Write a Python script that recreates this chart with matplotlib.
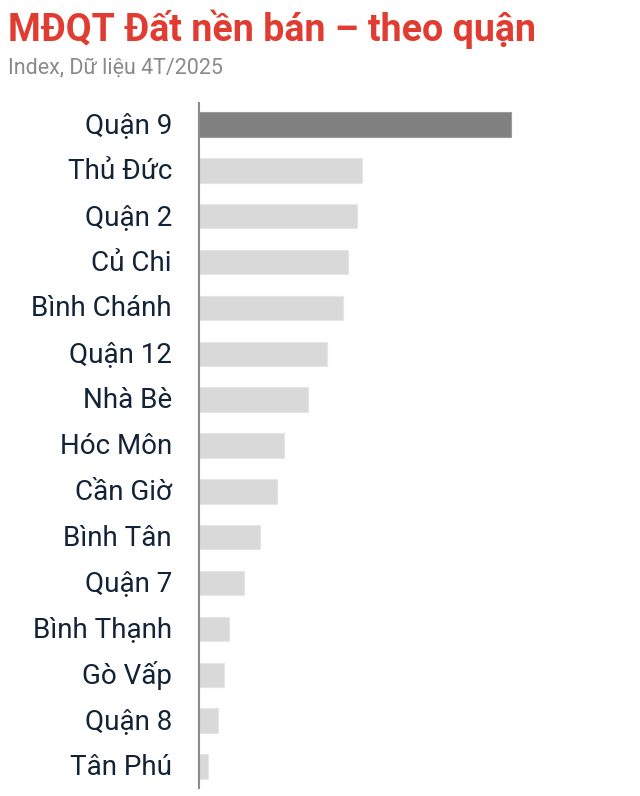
import matplotlib.pyplot as plt
from matplotlib.transforms import ScaledTranslation

districts = ["Quận 9", "Thủ Đức", "Quận 2", "Củ Chi", "Bình Chánh", "Quận 12", "Nhà Bè",
             "Hóc Môn", "Cần Giờ", "Bình Tân", "Quận 7", "Bình Thạnh", "Gò Vấp", "Quận 8", "Tân Phú"]
index_values = [312, 163, 158, 149, 144, 128, 109, 85, 78, 61, 45, 30, 25, 19, 9]
highlight = "Quận 9"

plt.rcParams['font.family'] = ['Roboto', 'DejaVu Sans']

W, H = 640, 796
fig = plt.figure(figsize=(W / 100, H / 100), dpi=100)
ax = fig.add_axes([199 / W, 1 - 788 / H, (620 - 199) / W, (788 - 103) / H])

colors = ["#808080" if d == highlight else "#d9d9d9" for d in districts]
edges = ["#9a9a9a" if d == highlight else "#e6e6e6" for d in districts]
ax.barh(range(len(districts)), index_values, height=0.53, color=colors,
        edgecolor=edges, linewidth=0.8)

ax.set_ylim(len(districts) - 0.53, -0.47)
ax.set_xlim(0, 421)
ax.set_yticks(range(len(districts)))
ax.set_yticklabels(districts, fontsize=20, color="#132337")
ax.tick_params(axis="y", length=0, pad=19.5)
# nudge labels up a couple of pixels
shift = ScaledTranslation(0, 2 / 100, fig.dpi_scale_trans)
for lbl in ax.get_yticklabels():
    lbl.set_transform(lbl.get_transform() + shift)
ax.set_xticks([])
for s in ["top", "right", "bottom"]:
    ax.spines[s].set_visible(False)
ax.spines["left"].set_color("#8c8c8c")
ax.spines["left"].set_linewidth(1.5)

fig.text(8 / W, 1 - 41 / H, "MĐQT Đất nền bán – theo quận", fontsize=27,
         fontweight="bold", color="#e03c31", ha="left", va="baseline")
fig.text(8 / W, 1 - 73 / H, "Index, Dữ liệu 4T/2025", fontsize=15.5,
         color="#8a8a8a", ha="left", va="baseline")

fig.savefig("out.png", dpi=100)
